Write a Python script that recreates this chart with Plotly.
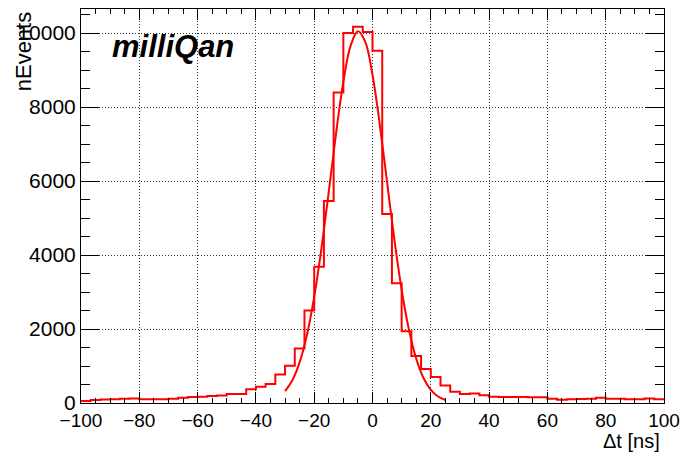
import numpy as np
import plotly.graph_objects as go

# Histogram definition (60 bins from -100 to 100 ns)
x_min, x_max, n_bins = -100.0, 100.0, 60
counts = [54, 80, 95, 100, 115, 125, 100, 100, 100, 115,
          145, 160, 170, 190, 205, 240, 245, 370, 440, 515,
          770, 1010, 1470, 2500, 3680, 5460, 8390, 10000, 10170, 10030,
          9520, 5110, 3235, 1940, 1270, 920, 705, 470, 305, 245,
          260, 210, 170, 165, 160, 160, 155, 155, 117, 90,
          100, 110, 117, 140, 117, 117, 100, 100, 125, 100]

# Fit curve points
fit_x = [-30, -27.5, -25, -22.5, -20, -17.5, -15, -12.5, -10, -7.5, -5,
         -2.5, 0, 2.5, 5, 7.5, 10, 12.5, 15, 17.5, 20, 22.5, 25]
fit_y = [320, 614, 1098, 1836, 2870, 4189, 5714, 7285, 8678, 9660, 10048,
         9766, 8869, 7526, 5969, 4422, 3062, 1981, 1198, 677, 357, 176, 81]

x_ticks = [-100, -80, -60, -40, -20, 0, 20, 40, 60, 80, 100]
y_ticks = [0, 2000, 4000, 6000, 8000, 10000]
y_tick_labels = ["0", "2000", "4000", "6000", "8000", "10000"]

edges = np.linspace(x_min, x_max, n_bins + 1)
step_x = list(edges)
step_y = list(counts) + [counts[-1]]

FONT = "Liberation Sans, Arial, Helvetica, sans-serif"
RED = "#ff0000"

fig = go.Figure()
fig.add_trace(go.Scatter(x=step_x, y=step_y, mode="lines",
                         line=dict(color=RED, width=2, shape="hv"),
                         showlegend=False, hoverinfo="skip"))
fig.add_trace(go.Scatter(x=fit_x, y=fit_y, mode="lines",
                         line=dict(color=RED, width=2, shape="spline"),
                         showlegend=False, hoverinfo="skip"))

axis_common = dict(showline=True, linecolor="black", linewidth=1, mirror="allticks",
                   ticks="inside", tickcolor="black", tickwidth=1,
                   showgrid=True, gridcolor="#333333", griddash="1px,2px", gridwidth=1,
                   zeroline=False, automargin=False)

fig.update_xaxes(range=[x_min, x_max], tickvals=x_ticks, ticklen=11,
                 minor=dict(dtick=5, ticklen=5, ticks="inside", tickcolor="black", showgrid=False),
                 tickfont=dict(family=FONT, size=19, color="black"),
                 **axis_common)
fig.update_yaxes(range=[0, 10650], tickvals=y_ticks, ticktext=y_tick_labels, ticklen=18,
                 minor=dict(dtick=500, ticklen=9, ticks="inside", tickcolor="black", showgrid=False),
                 tickfont=dict(family=FONT, size=21, color="black"),
                 **axis_common)

fig.add_annotation(text="milliQan", xref="paper", yref="paper", x=0.050, y=0.904,
                   xanchor="left", yanchor="middle", showarrow=False,
                   font=dict(family=FONT, size=31, color="black", weight="bold", style="italic"))
fig.add_annotation(text="nEvents", xref="paper", yref="paper", x=-0.099, y=1.0,
                   xanchor="center", yanchor="top", textangle=-90, showarrow=False,
                   font=dict(family=FONT, size=22, color="black"))
fig.add_annotation(text="Δt [ns]", xref="paper", yref="paper", x=0.996, y=-0.097,
                   xanchor="right", yanchor="middle", showarrow=False,
                   font=dict(family=FONT, size=20, color="black"))

fig.update_layout(width=684, height=456,
                  margin=dict(l=81, r=20, t=9, b=53),
                  paper_bgcolor="white", plot_bgcolor="white")

fig.write_html("out.html", config={"displayModeBar": False},
               post_script="document.body.style.margin='0px';document.body.style.overflow='hidden';")
